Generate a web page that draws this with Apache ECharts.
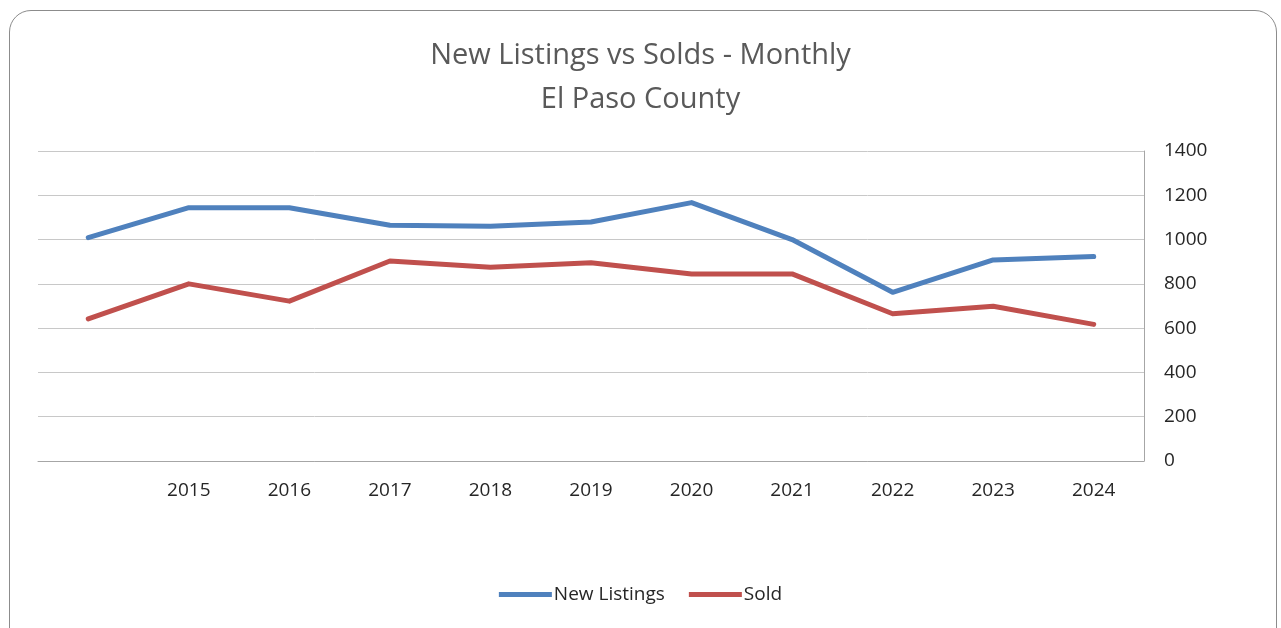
<!DOCTYPE html>
<html>
<head>
<meta charset="utf-8">
<script src="https://cdn.jsdelivr.net/npm/echarts@6/dist/echarts.min.js"></script>
<style>
  html, body { margin: 0; padding: 0; background: #fff; }
  #frame {
    position: absolute; left: 9px; top: 10px; width: 1268px; height: 640px;
    border: 1px solid #8c8c8c; border-radius: 22px; box-sizing: border-box;
  }
  #chart { position: absolute; left: 0; top: 0; width: 1281px; height: 628px; }
</style>
</head>
<body>
<div id="frame"></div>
<div id="chart"></div>
<script>
  // first year has no label on the original chart
  const years = ["", "2015", "2016", "2017", "2018", "2019", "2020", "2021", "2022", "2023", "2024"];
  const newListings = [1009, 1144, 1144, 1065, 1060, 1079, 1167, 1000, 762, 908, 923];
  const sold = [642, 800, 722, 903, 875, 895, 845, 845, 665, 699, 617];
  const yTicks = [0, 200, 400, 600, 800, 1000, 1200, 1400];

  const font = "'Open Sans', sans-serif";
  const chart = echarts.init(document.getElementById("chart"));

  chart.setOption({
    animation: false,
    title: {
      text: "New Listings vs Solds - Monthly\nEl Paso County",
      left: "center",
      top: 29,
      textStyle: {
        fontFamily: font,
        fontWeight: "normal",
        fontSize: 29,
        lineHeight: 44,
        color: "#595959",
      },
    },
    grid: {
      left: 38,
      right: 137,
      top: 151,
      bottom: 167,
    },
    legend: {
      bottom: 19,
      left: "center",
      itemWidth: 53,
      itemHeight: 5,
      itemGap: 24,
      icon: "rect",
      textStyle: { fontFamily: font, fontSize: 19, color: "#262626", padding: [0, 0, 0, -3] },
    },
    xAxis: {
      type: "category",
      data: years,
      boundaryGap: true,
      axisLine: { lineStyle: { color: "#a6a6a6", width: 1 } },
      axisTick: { show: false },
      axisLabel: {
        interval: 0,
        margin: 20,
        fontFamily: font,
        fontSize: 19,
        color: "#262626",
      },
    },
    yAxis: {
      type: "value",
      position: "right",
      min: 0,
      max: 1400,
      interval: 200,
      axisLine: { show: true, lineStyle: { color: "#a6a6a6", width: 1 } },
      axisTick: { show: false },
      splitLine: { lineStyle: { color: "#c8c8c8", width: 1 } },
      axisLabel: {
        margin: 20,
        fontFamily: font,
        fontSize: 19,
        color: "#262626",
        formatter: (v) => (yTicks.includes(v) ? String(v) : ""),
      },
    },
    series: [
      {
        name: "New Listings",
        type: "line",
        data: newListings,
        symbol: "none",
        lineStyle: { width: 5, color: "#4f81bd", cap: "round", join: "round" },
        itemStyle: { color: "#4f81bd" },
      },
      {
        name: "Sold",
        type: "line",
        data: sold,
        symbol: "none",
        lineStyle: { width: 5, color: "#c0504d", cap: "round", join: "round" },
        itemStyle: { color: "#c0504d" },
      },
    ],
  });
</script>
</body>
</html>
